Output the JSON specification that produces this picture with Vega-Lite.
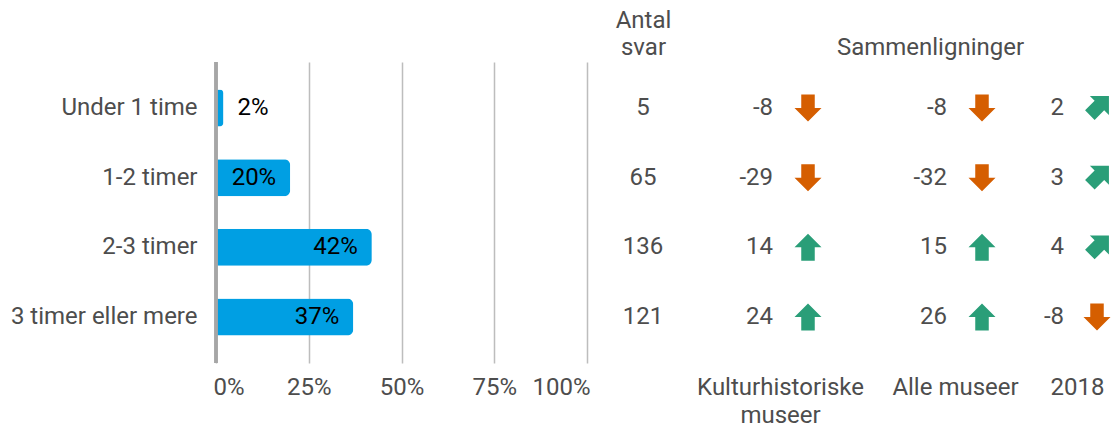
{
  "$schema": "https://vega.github.io/schema/vega-lite/v6.json",
  "width": 897,
  "height": 301,
  "autosize": {"type": "none"},
  "padding": {"left": 216, "top": 62, "right": 0, "bottom": 63},
  "config": {
    "font": "Roboto",
    "view": {"stroke": null},
    "axis": {"labelFont": "Roboto", "labelFontSize": 24, "labelColor": "#4d4d4d", "titleFont": "Roboto", "labelAngle": 0, "labelLimit": 0},
    "text": {"font": "Roboto", "fontSize": 24}
  },
  "datasets": {
    "fordeling": [
      {"kategori": "Under 1 time", "andel": 0.02, "antal": 5},
      {"kategori": "1-2 timer", "andel": 0.20, "antal": 65},
      {"kategori": "2-3 timer", "andel": 0.42, "antal": 136},
      {"kategori": "3 timer eller mere", "andel": 0.37, "antal": 121}
    ],
    "sammenligning": [
      {"kategori": "Under 1 time", "sammenligning": "Kulturhistoriske museer", "forskel": -8, "retning": "ned"},
      {"kategori": "1-2 timer", "sammenligning": "Kulturhistoriske museer", "forskel": -29, "retning": "ned"},
      {"kategori": "2-3 timer", "sammenligning": "Kulturhistoriske museer", "forskel": 14, "retning": "op"},
      {"kategori": "3 timer eller mere", "sammenligning": "Kulturhistoriske museer", "forskel": 24, "retning": "op"},
      {"kategori": "Under 1 time", "sammenligning": "Alle museer", "forskel": -8, "retning": "ned"},
      {"kategori": "1-2 timer", "sammenligning": "Alle museer", "forskel": -32, "retning": "ned"},
      {"kategori": "2-3 timer", "sammenligning": "Alle museer", "forskel": 15, "retning": "op"},
      {"kategori": "3 timer eller mere", "sammenligning": "Alle museer", "forskel": 26, "retning": "op"},
      {"kategori": "Under 1 time", "sammenligning": "2018", "forskel": 2, "retning": "lidt op"},
      {"kategori": "1-2 timer", "sammenligning": "2018", "forskel": 3, "retning": "lidt op"},
      {"kategori": "2-3 timer", "sammenligning": "2018", "forskel": 4, "retning": "lidt op"},
      {"kategori": "3 timer eller mere", "sammenligning": "2018", "forskel": -8, "retning": "ned"}
    ]
  },
  "encoding": {
    "y": {
      "field": "kategori",
      "type": "nominal",
      "sort": ["Under 1 time", "1-2 timer", "2-3 timer", "3 timer eller mere"],
      "scale": {"paddingInner": 0.469, "paddingOuter": 0.394},
      "axis": {"title": null, "ticks": false, "domain": false, "labelPadding": 19}
    }
  },
  "resolve": {"scale": {"x": "independent"}, "axis": {"x": "independent"}},
  "layer": [
    {
      "data": {"name": "fordeling"},
      "encoding": {
        "x": {
          "field": "andel",
          "type": "quantitative",
          "scale": {"domain": [0, 1], "range": [0, 371]},
          "axis": {"values": [0, 0.25, 0.5, 0.75, 1], "format": ".0%", "labelFlush": true, "labelFlushOffset": 3, "grid": true, "gridColor": "#bdbdbd", "gridWidth": 1.5, "ticks": false, "domain": false, "title": null, "labelPadding": 12}
        }
      },
      "layer": [
        {"mark": {"type": "bar", "color": "#009fe3", "cornerRadiusEnd": 6}},
        {
          "transform": [{"filter": "datum.andel >= 0.1"}],
          "mark": {"type": "text", "align": "right", "dx": -14, "color": "#000000"},
          "encoding": {"text": {"field": "andel", "type": "quantitative", "format": ".0%"}}
        },
        {
          "transform": [{"filter": "datum.andel < 0.1"}],
          "mark": {"type": "text", "align": "left", "dx": 14, "color": "#000000"},
          "encoding": {"text": {"field": "andel", "type": "quantitative", "format": ".0%"}}
        },
        {
          "mark": {"type": "rule", "color": "#a6a6a6", "strokeWidth": 3},
          "encoding": {"x": {"datum": 0}, "y": null}
        }
      ]
    },
    {
      "data": {"name": "fordeling"},
      "mark": {"type": "text", "align": "center", "color": "#4d4d4d"},
      "encoding": {
        "x": {
          "datum": "Antal svar",
          "type": "nominal",
          "scale": {"type": "point", "range": [417, 437]},
          "axis": {"orient": "top", "title": null, "ticks": false, "domain": false, "labelExpr": "['Antal', 'svar']", "labelLineHeight": 27, "labelPadding": 30}
        },
        "text": {"field": "antal", "type": "nominal"}
      }
    },
    {
      "data": {"name": "fordeling"},
      "mark": {"type": "text", "opacity": 0},
      "encoding": {
        "x": {
          "datum": "Sammenligninger",
          "type": "nominal",
          "scale": {"type": "point", "range": [704, 724]},
          "axis": {"orient": "top", "title": null, "ticks": false, "domain": false, "labelPadding": 3}
        },
        "text": {"value": ""}
      }
    },
    {
      "data": {"name": "sammenligning"},
      "transform": [{"filter": "datum.sammenligning === 'Kulturhistoriske museer'"}],
      "encoding": {
        "x": {
          "field": "sammenligning",
          "type": "nominal",
          "scale": {"type": "point", "range": [554, 574]},
          "axis": {"orient": "bottom", "title": null, "ticks": false, "domain": false, "labelExpr": "['Kulturhistoriske', 'museer']", "labelLineHeight": 28, "labelPadding": 12}
        }
      },
      "layer": [
        {"mark": {"type": "text", "align": "right", "dx": -7, "color": "#4d4d4d"}, "encoding": {"text": {"field": "forskel", "type": "nominal"}}},
        {
          "mark": {"type": "point", "filled": true, "opacity": 1, "size": 729, "strokeWidth": 0, "xOffset": 28},
          "encoding": {
            "shape": {"field": "retning", "type": "nominal", "scale": {"domain": ["ned", "op", "lidt op"], "range": ["M-0.5,-1L0.5,-1L0.5,0L1,0L0,1L-1,0L-0.5,0Z", "M-0.5,1L0.5,1L0.5,0L1,0L0,-1L-1,0L-0.5,0Z", "M-0.884,0.177L-0.177,0.884L0.531,0.177L0.884,0.53L0.884,-0.884L-0.53,-0.884L-0.177,-0.531Z"]}, "legend": null},
            "color": {"field": "retning", "type": "nominal", "scale": {"domain": ["ned", "op", "lidt op"], "range": ["#d55e00", "#2a9e78", "#2a9e78"]}, "legend": null}
          }
        }
      ]
    },
    {
      "data": {"name": "sammenligning"},
      "transform": [{"filter": "datum.sammenligning === 'Alle museer'"}],
      "encoding": {
        "x": {
          "field": "sammenligning",
          "type": "nominal",
          "scale": {"type": "point", "range": [729, 749]},
          "axis": {"orient": "bottom", "title": null, "ticks": false, "domain": false, "labelPadding": 12}
        }
      },
      "layer": [
        {"mark": {"type": "text", "align": "right", "dx": -8, "color": "#4d4d4d"}, "encoding": {"text": {"field": "forskel", "type": "nominal"}}},
        {
          "mark": {"type": "point", "filled": true, "opacity": 1, "size": 729, "strokeWidth": 0, "xOffset": 27},
          "encoding": {
            "shape": {"field": "retning", "type": "nominal", "scale": {"domain": ["ned", "op", "lidt op"], "range": ["M-0.5,-1L0.5,-1L0.5,0L1,0L0,1L-1,0L-0.5,0Z", "M-0.5,1L0.5,1L0.5,0L1,0L0,-1L-1,0L-0.5,0Z", "M-0.884,0.177L-0.177,0.884L0.531,0.177L0.884,0.53L0.884,-0.884L-0.53,-0.884L-0.177,-0.531Z"]}, "legend": null},
            "color": {"field": "retning", "type": "nominal", "scale": {"domain": ["ned", "op", "lidt op"], "range": ["#d55e00", "#2a9e78", "#2a9e78"]}, "legend": null}
          }
        }
      ]
    },
    {
      "data": {"name": "sammenligning"},
      "transform": [{"filter": "datum.sammenligning === '2018'"}],
      "encoding": {
        "x": {
          "field": "sammenligning",
          "type": "nominal",
          "scale": {"type": "point", "range": [851, 871]},
          "axis": {"orient": "bottom", "title": null, "ticks": false, "domain": false, "labelPadding": 12}
        }
      },
      "layer": [
        {"mark": {"type": "text", "align": "right", "dx": -13, "color": "#4d4d4d"}, "encoding": {"text": {"field": "forskel", "type": "nominal"}}},
        {
          "mark": {"type": "point", "filled": true, "opacity": 1, "size": 729, "strokeWidth": 0, "xOffset": 20},
          "encoding": {
            "shape": {"field": "retning", "type": "nominal", "scale": {"domain": ["ned", "op", "lidt op"], "range": ["M-0.5,-1L0.5,-1L0.5,0L1,0L0,1L-1,0L-0.5,0Z", "M-0.5,1L0.5,1L0.5,0L1,0L0,-1L-1,0L-0.5,0Z", "M-0.884,0.177L-0.177,0.884L0.531,0.177L0.884,0.53L0.884,-0.884L-0.53,-0.884L-0.177,-0.531Z"]}, "legend": null},
            "color": {"field": "retning", "type": "nominal", "scale": {"domain": ["ned", "op", "lidt op"], "range": ["#d55e00", "#2a9e78", "#2a9e78"]}, "legend": null}
          }
        }
      ]
    }
  ]
}
